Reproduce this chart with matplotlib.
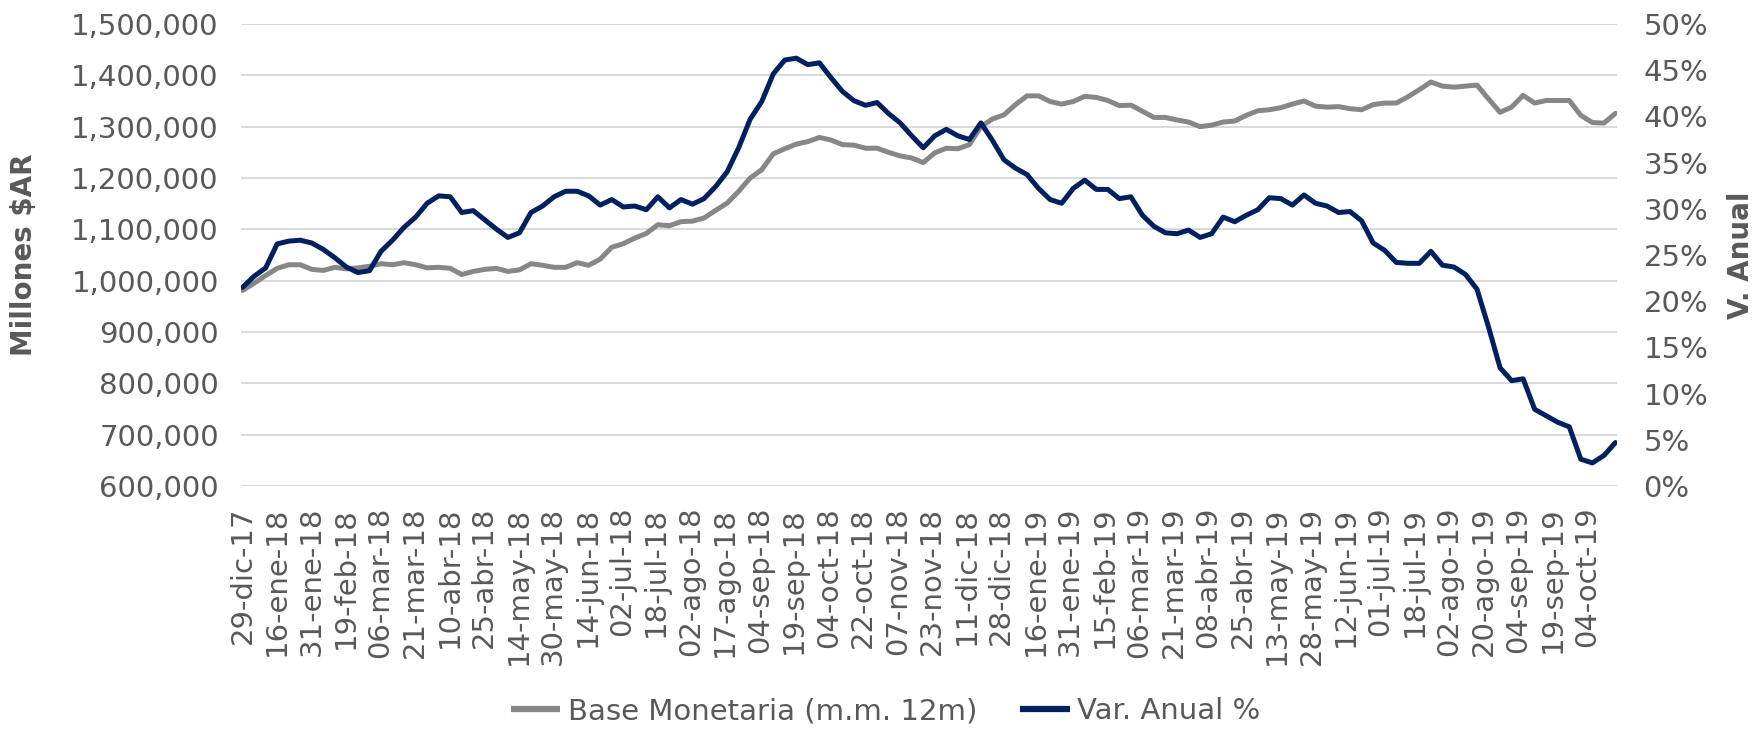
# Base Monetaria (promedio movil 12m) y variacion anual
import numpy as np
import matplotlib; matplotlib.use('Agg')
import matplotlib.pyplot as plt
from matplotlib.ticker import FuncFormatter, FixedLocator

# ── Data (one value every ~3.7 business days) ────────────────────────────────
# Base Monetaria m.m. 12m, miles de millones $AR
base_monetaria = [981, 995, 1010, 1024, 1031, 1031, 1022, 1020, 1026, 1023,
                  1025, 1028, 1033, 1031, 1035, 1031, 1025, 1026, 1024, 1012,
                  1018, 1022, 1024, 1018, 1021, 1033, 1030, 1026, 1026, 1035,
                  1030, 1042, 1065, 1072, 1083, 1092, 1109, 1107, 1115, 1116,
                  1122, 1137, 1151, 1174, 1200, 1216, 1247, 1257, 1266, 1271,
                  1279, 1274, 1265, 1264, 1258, 1258, 1250, 1243, 1239, 1230,
                  1249, 1258, 1257, 1265, 1300, 1315, 1323, 1343, 1360, 1360,
                  1349, 1344, 1349, 1359, 1357, 1351, 1341, 1342, 1330, 1318,
                  1318, 1313, 1309, 1300, 1303, 1309, 1311, 1322, 1331, 1333,
                  1337, 1344, 1350, 1340, 1338, 1339, 1335, 1333, 1343, 1346,
                  1346, 1358, 1372, 1387, 1379, 1377, 1379, 1381, 1354, 1328,
                  1338, 1361, 1346, 1351, 1351, 1351, 1322, 1308, 1307, 1326]
# Variacion anual, %
var_anual = [21.5, 22.7, 23.6, 26.2, 26.5, 26.6, 26.3, 25.6, 24.7, 23.7,
             23.1, 23.3, 25.4, 26.6, 28.0, 29.1, 30.6, 31.4, 31.3, 29.6,
             29.8, 28.8, 27.8, 26.9, 27.4, 29.6, 30.3, 31.3, 31.9, 31.9,
             31.4, 30.4, 31.0, 30.2, 30.3, 29.9, 31.3, 30.1, 31.0, 30.5,
             31.1, 32.4, 34.0, 36.6, 39.7, 41.6, 44.6, 46.1, 46.3, 45.6,
             45.8, 44.2, 42.7, 41.7, 41.2, 41.5, 40.3, 39.3, 37.9, 36.6,
             37.9, 38.6, 37.9, 37.5, 39.3, 37.4, 35.3, 34.4, 33.7, 32.2,
             31.0, 30.6, 32.2, 33.1, 32.1, 32.1, 31.1, 31.3, 29.3, 28.1,
             27.4, 27.3, 27.7, 26.9, 27.3, 29.1, 28.6, 29.3, 29.9, 31.2,
             31.1, 30.4, 31.5, 30.6, 30.3, 29.6, 29.7, 28.7, 26.3, 25.5,
             24.2, 24.1, 24.1, 25.4, 23.9, 23.7, 22.9, 21.3, 17.2, 12.8,
             11.4, 11.6, 8.3, 7.6, 6.9, 6.4, 2.9, 2.5, 3.3, 4.7]
# one label every 11 business days
fechas = ['29-dic-17','16-ene-18','31-ene-18','19-feb-18','06-mar-18','21-mar-18',
          '10-abr-18','25-abr-18','14-may-18','30-may-18','14-jun-18','02-jul-18',
          '18-jul-18','02-ago-18','17-ago-18','04-sep-18','19-sep-18','04-oct-18',
          '22-oct-18','07-nov-18','23-nov-18','11-dic-18','28-dic-18','16-ene-19',
          '31-ene-19','15-feb-19','06-mar-19','21-mar-19','08-abr-19','25-abr-19',
          '13-may-19','28-may-19','12-jun-19','01-jul-19','18-jul-19','02-ago-19',
          '20-ago-19','04-sep-19','19-sep-19','04-oct-19']
n_dias = 439          # business days in the series
paso_lbl = 11

# ── Plot ─────────────────────────────────────────────────────────────────────
TXT = '#595959'; GRAY = '#878787'; NAVY = '#002060'
plt.rcParams['font.family'] = ['DejaVu Sans']
fig = plt.figure(figsize=(17.54, 7.31), dpi=100)
ax = fig.add_axes([241/1754, 1-486/731, 1376/1754, 462/731])
ax2 = ax.twinx()

x = np.linspace(0, n_dias-1, len(var_anual))
l1, = ax.plot(x, np.array(base_monetaria)*1000, color=GRAY, lw=3.6,
              solid_joinstyle='round', solid_capstyle='round', label='Base Monetaria (m.m. 12m)')
l2, = ax2.plot(x, np.array(var_anual)/100, color=NAVY, lw=3.6,
               solid_joinstyle='round', solid_capstyle='round', label='Var. Anual %')

ax.set_xlim(-0.5, n_dias-0.5)
ax.set_ylim(600000, 1500000)
ax2.set_ylim(0, 0.5)
ax.set_yticks(np.arange(600000, 1500001, 100000))
ax2.set_yticks(np.arange(0, 0.501, 0.05))
ax.yaxis.set_major_formatter(FuncFormatter(lambda v, p: f'{v:,.0f}'))
ax2.yaxis.set_major_formatter(FuncFormatter(lambda v, p: f'{v*100:.0f}%'))
ax.xaxis.set_major_locator(FixedLocator(np.arange(len(fechas))*paso_lbl))
ax.set_xticklabels(fechas, rotation=90)

ax.grid(axis='y', color='#D9D9D9', lw=1.4); ax.set_axisbelow(True)
for a in (ax, ax2):
    for s in a.spines.values(): s.set_visible(False)
ax.tick_params(axis='y', length=0, pad=16, labelsize=21, labelcolor=TXT)
ax2.tick_params(axis='y', length=0, pad=19, labelsize=21, labelcolor=TXT)
ax.tick_params(axis='x', length=0, pad=15, labelsize=21, labelcolor=TXT)

ax.set_ylabel('Millones $AR', fontsize=20, fontweight='bold', color=TXT)
ax.yaxis.set_label_coords(-0.1475, 0.5)
ax2.set_ylabel('V. Anual', fontsize=20, fontweight='bold', color=TXT)
ax2.yaxis.set_label_coords(1.0799, 0.5)

leg = fig.legend(handles=[l1, l2], loc='center', bbox_to_anchor=(0.505, 0.027), ncol=2,
                 frameon=False, fontsize=21, handlelength=1.7, handletextpad=0.27,
                 columnspacing=1.45, borderpad=0)
for t in leg.get_texts(): t.set_color(TXT)
for h in leg.legend_handles: h.set_linewidth(4.5); h.set_solid_capstyle('butt')

fig.savefig('out.png', dpi=100)
plt.close()
